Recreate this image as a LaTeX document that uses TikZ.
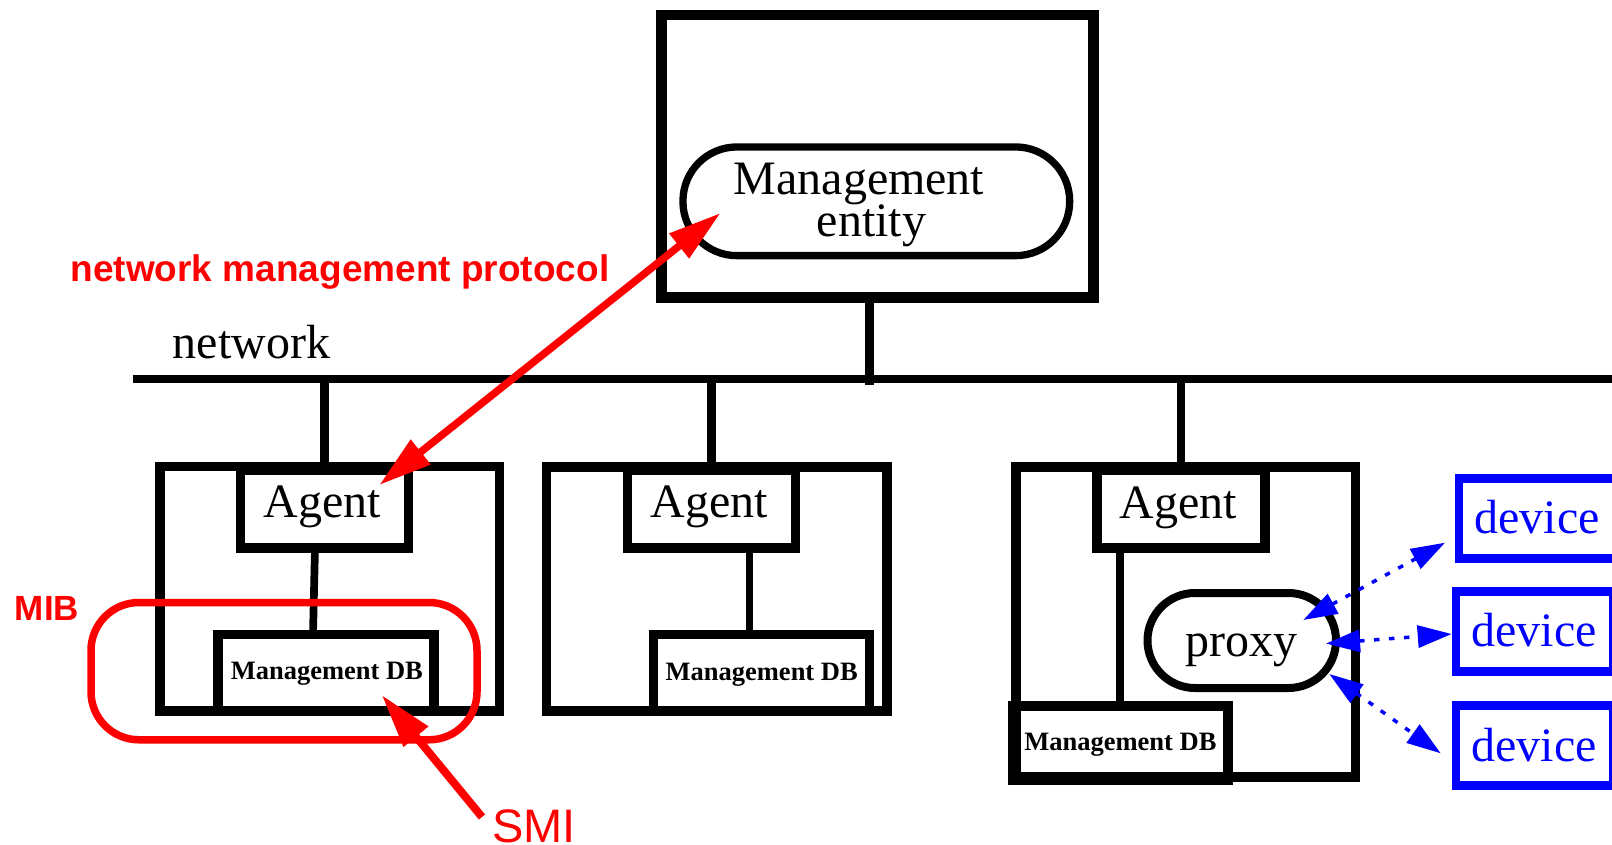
\documentclass[tikz,border=0pt]{standalone}
\usepackage{fontspec}
\setmainfont{Liberation Serif}
\setsansfont{Liberation Sans}
\usetikzlibrary{arrows.meta}
\begin{document}
\begin{tikzpicture}[x=1pt,y=-1pt,
  cont/.style={draw=black, line width=9.5pt, inner sep=0pt, outer sep=0pt},
  agentbox/.style={cont, minimum width=168pt, minimum height=78pt},
  dbbox/.style={cont, minimum width=216pt, minimum height=76.5pt},
  devbox/.style={draw=blue, line width=8.7pt, inner sep=0pt, outer sep=0pt},
  pill/.style={draw=black, inner sep=0pt, outer sep=0pt},
  txt/.style={inner sep=0pt, outer sep=0pt, anchor=base, font=\fontsize{48}{48}\selectfont},
  dbtxt/.style={txt, font=\fontsize{26.5}{26.5}\selectfont\bfseries},
  devtxt/.style={txt, text=blue},
  redlbl/.style={inner sep=0pt, outer sep=0pt, anchor=base, text=red},
  wire/.style={draw=black, line width=8.5pt},
  redarrow/.style={draw=red, fill=red, line width=7.5pt},
  bluearrow/.style={draw=blue, line width=3.5pt, dash pattern=on 5.5pt off 9.5pt,
    arrows={Triangle[length=34pt,width=22pt]-Triangle[length=34pt,width=22pt]}}
]
\useasboundingbox (0,0) rectangle (1612,845);
\fill[white] (0,0) rectangle (1612,845);

% management station
\node[cont, line width=10.5pt, minimum width=432pt, minimum height=282.5pt] (mgmt) at (877.5,156.25) {};
\node[pill, line width=7.3pt, minimum width=386.7pt, minimum height=108.7pt, rounded corners=54pt] (ent) at (876.3,201.3) {};
\node[txt] (entA) at (859,195) {Management};
\node[txt] (entB) at (871.5,236.7) {entity};

% network line
\coordinate (netL) at (133,378.5);
\coordinate (netR) at (1625,378.5);
\draw[line width=8pt] (netL) -- (netR);
\node[txt] (nettxt) at (251.5,358.3) {network};
\coordinate (mstub) at (869.3,385);
\draw[line width=8.7pt] (mstub |- mgmt.south) -- (mstub);

% containers
\node[cont, minimum width=339.5pt, minimum height=244.5pt] (c1) at (329.75,588.75) {};
\node[cont, minimum width=340.5pt, minimum height=244pt] (c2) at (716.75,589) {};
\node[cont, minimum width=339.5pt, minimum height=310pt] (c3) at (1185.75,622) {};

% agents
\node[agentbox] (ag1) at (324.25,509) {};
\node[agentbox] (ag2) at (711.5,509) {};
\node[agentbox] (ag3) at (1180.75,509) {};
\node[txt] (ag1t) at (322.5,517.3) {Agent};
\node[txt] (ag2t) at (709.5,517.3) {Agent};
\node[txt] (ag3t) at (1178,518.3) {Agent};

% stubs to network
\draw[wire] (ag1.north) -- (ag1.north |- netL);
\draw[wire] (ag2.north) -- (ag2.north |- netL);
\draw[wire] (ag3.north) -- (ag3.north |- netL);

% management DBs
\node[dbbox] (db1) at (326,672.75) {};
\node[dbbox] (db2) at (761.5,672.75) {};
\node[cont, line width=10.5pt, minimum width=215pt, minimum height=73.5pt] (db3) at (1120.5,742.5) {};
\node[dbtxt] (db1t) at (326.8,679.3) {Management DB};
\node[dbtxt] (db2t) at (761.7,680) {Management DB};
\node[dbtxt] (db3t) at (1120.4,750) {Management DB};

% agent - DB links
\draw[line width=7.7pt] ([xshift=-9.25pt]ag1.south) -- ([xshift=-13pt]db1.north);
\draw[line width=7.7pt] ([xshift=38pt]ag2.south) -- ([xshift=-12pt]db2.north);
\draw[line width=7.7pt] ([xshift=-60.75pt]ag3.south) -- ([xshift=-0.5pt]db3.north);

% proxy
\node[pill, line width=8pt, minimum width=188.5pt, minimum height=95pt, rounded corners=47.5pt] (proxy) at (1241.75,640.5) {};
\node[txt] (proxyt) at (1241,656.7) {proxy};

% devices
\node[devbox, minimum width=166pt, minimum height=80pt] (dev1) at (1542,518.3) {};
\node[devbox, minimum width=157pt, minimum height=80pt] (dev2) at (1534.5,631.7) {};
\node[devbox, minimum width=157pt, minimum height=79.5pt] (dev3) at (1534.5,745.55) {};
\node[devtxt] (dev1t) at (1537.2,533.3) {device};
\node[devtxt] (dev2t) at (1534.2,646.7) {device};
\node[devtxt] (dev3t) at (1534,761.7) {device};

% MIB
\node[draw=red, line width=7.5pt, inner sep=0pt, rounded corners=48pt, minimum width=386pt, minimum height=137.3pt] (mib) at (284,671.15) {};
\node[redlbl, font=\fontsize{35}{35}\selectfont\sffamily\bfseries] (mibt) at (47,620) {MIB};

% labels
\node[redlbl, font=\fontsize{37}{37}\selectfont\sffamily\bfseries] (nmpt) at (340,281.7) {network management protocol};
\node[redlbl, font=\fontsize{47}{47}\selectfont\sffamily] (smit) at (534,842) {SMI};

% red arrows
\coordinate (nmpA) at (379.3,485);
\coordinate (nmpM) at (720.5,213);
\draw[redarrow, arrows={Triangle[length=53pt,width=30pt]-Triangle[length=53pt,width=30pt]}] (nmpA) -- (nmpM);
\coordinate (smiTail) at (482,817);
\coordinate (smiTip) at (381.7,695);
\draw[redarrow, line width=8pt, -{Triangle[length=54pt,width=30pt]}] (smiTail) -- (smiTip);

% blue arrows
\coordinate (pa1) at (1303.3,620);
\coordinate (da1) at (1445,542.7);
\coordinate (pa2) at (1326,643.5);
\coordinate (da2) at (1451.7,634);
\coordinate (pa3) at (1329.3,674);
\coordinate (da3) at (1440.7,753.3);
\draw[bluearrow] (pa1) -- (da1);
\draw[bluearrow] (pa2) -- (da2);
\draw[bluearrow] (pa3) -- (da3);
\end{tikzpicture}
\end{document}
